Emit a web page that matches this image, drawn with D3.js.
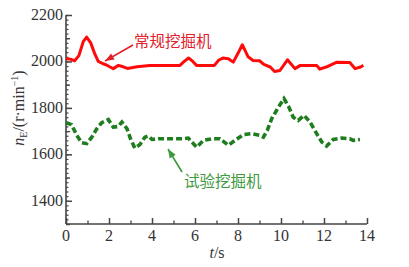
<!DOCTYPE html>
<html><head><meta charset="utf-8">
<script src="https://cdn.jsdelivr.net/npm/d3@7"></script>
<style>body{margin:0;background:#fff}svg{display:block}.sf{font-family:"Liberation Serif","DejaVu Serif",serif}</style>
</head><body>
<svg id="c" width="409" height="267"></svg>
<script>
const redT = [0,0.2,0.4,0.6,0.8,0.96,1.15,1.35,1.5,1.72,1.86,2.05,2.2,2.44,2.66,2.86,3.3,3.9,5.3,5.5,5.7,5.9,6.07,6.9,7.1,7.3,7.55,7.78,8.0,8.2,8.47,8.7,9.0,9.2,9.5,9.7,9.95,10.3,10.65,10.9,11.66,11.8,12.1,12.6,13.2,13.45,13.7,13.83];
const redV = [2012,2010,2003,2025,2085,2105,2080,2030,2000,1990,1986,1976,1969,1983,1977,1970,1977,1983,1983,2000,2015,2000,1983,1983,2005,2015,2012,1997,2035,2072,2020,2004,2003,1987,1976,1957,1961,2007,1969,1983,1983,1967,1976,1997,1995,1969,1976,1983];
const greenT = [0,0.26,0.5,0.73,0.96,1.2,1.43,1.66,1.97,2.2,2.43,2.6,2.84,3.0,3.2,3.44,3.67,3.83,4.0,4.3,5.46,5.69,5.85,6.08,6.39,6.78,7.16,7.55,7.86,8.25,8.64,9.02,9.18,9.36,9.57,9.88,10.14,10.37,10.57,10.8,11.07,11.35,11.66,11.9,12.12,12.43,12.82,13.2,13.36,13.67];
const greenV = [1736,1728,1682,1650,1646,1674,1710,1736,1750,1717,1720,1739,1710,1667,1627,1642,1674,1679,1664,1667,1667,1670,1653,1631,1660,1667,1667,1639,1660,1685,1689,1682,1674,1703,1754,1803,1840,1803,1760,1746,1768,1739,1689,1653,1636,1664,1670,1667,1660,1664];
const xTicks = [0,2,4,6,8,10,12,14];
const yTicks = [1400,1600,1800,2000,2200];
const redLabel = "常规挖掘机";
const greenLabel = "试验挖掘机";

const svg = d3.select("#c");
const x = d3.scaleLinear().domain([0,14]).range([66,367]);
const y = d3.scaleLinear().domain([1300,2200]).range([224,15]);
const axisCol = "#444";

// Y axis
const gy = svg.append("g").attr("transform","translate(66,0)");
gy.call(d3.axisRight(y).tickValues(d3.range(1300,2201,20)).tickSize(2.5).tickFormat(""));
gy.call(g=>g.selectAll(".tick line").attr("stroke",axisCol).attr("stroke-width",1.2));
gy.append("g").call(d3.axisRight(y).tickValues(yTicks).tickSize(6).tickFormat(""))
  .call(g=>g.selectAll(".tick line").attr("stroke",axisCol).attr("stroke-width",1.5));
gy.append("g").call(d3.axisRight(y).tickValues([1300,1500,1700,1900,2100]).tickSize(4).tickFormat(""))
  .call(g=>g.selectAll(".tick line").attr("stroke",axisCol).attr("stroke-width",1.3));
gy.selectAll(".domain").remove();
gy.append("line").attr("x1",0).attr("x2",0).attr("y1",y(2200)).attr("y2",y(1300)).attr("stroke",axisCol).attr("stroke-width",1.6);
yTicks.forEach(v=>{
  svg.append("text").attr("class","sf").attr("x",63).attr("y",y(v)+5).attr("text-anchor","end")
    .attr("font-size",16).attr("fill","#333").text(v);
});

// X axis
const gx = svg.append("g").attr("transform","translate(0,224)");
gx.call(d3.axisTop(x).tickValues(d3.range(1,14,2)).tickSize(3.5).tickFormat(""))
  .call(g=>g.selectAll(".tick line").attr("stroke",axisCol).attr("stroke-width",1.3));
gx.append("g").call(d3.axisTop(x).tickValues(xTicks).tickSize(6).tickFormat(""))
  .call(g=>g.selectAll(".tick line").attr("stroke",axisCol).attr("stroke-width",1.5));
gx.selectAll(".domain").remove();
gx.append("line").attr("x1",x(0)).attr("x2",x(14)).attr("y1",0).attr("y2",0).attr("stroke",axisCol).attr("stroke-width",1.6);
xTicks.forEach(v=>{
  svg.append("text").attr("class","sf").attr("x",x(v)).attr("y",241).attr("text-anchor","middle")
    .attr("font-size",16).attr("fill","#333").text(v);
});

// Axis titles
const xt = svg.append("text").attr("class","sf").attr("x",217).attr("y",258).attr("text-anchor","middle")
  .attr("font-size",16).attr("fill","#333");
xt.append("tspan").attr("font-style","italic").text("t");
xt.append("tspan").text("/s");

const yt = svg.append("text").attr("class","sf").attr("transform","translate(24,108) rotate(-90)").attr("text-anchor","middle")
  .attr("font-size",16).attr("fill","#333");
yt.append("tspan").attr("font-style","italic").text("n");
yt.append("tspan").attr("font-size",10).attr("dy",3).text("E");
yt.append("tspan").attr("dy",-3).text("/(r·min");
yt.append("tspan").attr("font-size",10).attr("dy",-6).text("−1");
yt.append("tspan").attr("dy",6).text(")");

// Lines
const line = d3.line().x(d=>x(d[0])).y(d=>y(d[1]));
svg.append("path").datum(redT.map((t,i)=>[t,redV[i]]))
  .attr("d",line).attr("fill","none").attr("stroke","#ff0a0a").attr("stroke-width",3).attr("stroke-linejoin","round");
svg.append("path").datum(greenT.map((t,i)=>[t,greenV[i]]))
  .attr("d",line).attr("fill","none").attr("stroke","#1e7d1e").attr("stroke-width",3.6)
  .attr("stroke-dasharray","6,3");

// Annotations
function arrow(x1,y1,x2,y2,col){
  svg.append("line").attr("x1",x1).attr("y1",y1).attr("x2",x2).attr("y2",y2)
    .attr("stroke",col).attr("stroke-width",1.6);
  const a = Math.atan2(y2-y1,x2-x1), L=9, W=3.5;
  const bx = x2-L*Math.cos(a), by = y2-L*Math.sin(a);
  const px = -Math.sin(a)*W, py = Math.cos(a)*W;
  svg.append("path").attr("d",`M${x2},${y2}L${bx+px},${by+py}L${bx-px},${by-py}Z`).attr("fill",col);
}
svg.append("text").attr("x",134).attr("y",47).attr("font-family","'Noto Sans CJK SC',sans-serif")
  .attr("font-size",15.5).attr("fill","#e0202a").text(redLabel);
arrow(133,45,105,61,"#e0202a");
svg.append("text").attr("x",184).attr("y",187).attr("font-family","'Noto Sans CJK SC',sans-serif")
  .attr("font-size",15.5).attr("fill","#3c9a3c").text(greenLabel);
arrow(182,172,168,149,"#3c9a3c");
</script>
</body></html>
